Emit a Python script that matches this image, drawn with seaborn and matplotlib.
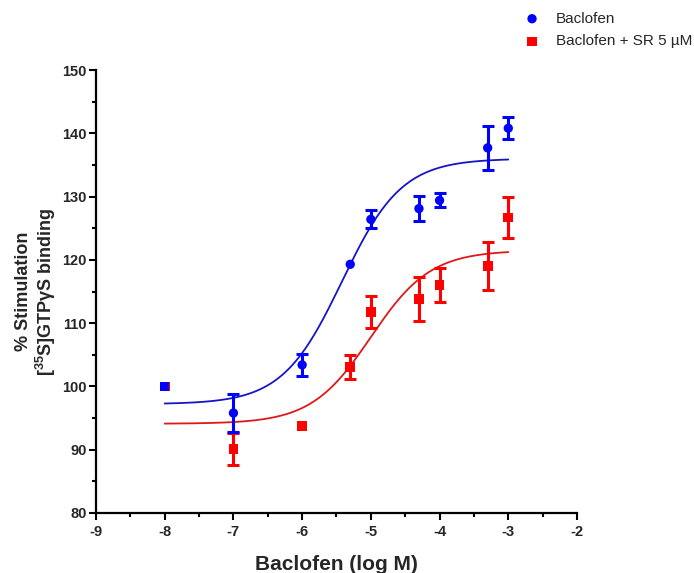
import numpy as np
import pandas as pd
import matplotlib
matplotlib.use("Agg")
import matplotlib.pyplot as plt
import seaborn as sns

# ---- data ----
log_conc = [-8, -7, -6, -5.3, -5, -4.3, -4, -3.3, -3]
baclofen_mean = [100.0, 95.8, 103.4, 119.3, 126.4, 128.1, 129.4, 137.7, 140.8]
baclofen_sem = [0.0, 3.0, 1.7, 0.0, 1.4, 2.0, 1.1, 3.5, 1.7]
sr_mean = [100.0, 90.1, 93.7, 103.1, 111.8, 113.8, 116.0, 119.0, 126.7]
sr_sem = [0.0, 2.5, 0.0, 1.9, 2.5, 3.5, 2.7, 3.8, 3.3]

# fitted 4-parameter logistic curves (bottom, top, logEC50, hill)
baclofen_fit = [97.2, 136.0, -5.42, 1.0]
sr_fit = [94.1, 121.5, -5.0, 1.0]

x_ticks = [-9, -8, -7, -6, -5, -4, -3, -2]
y_ticks = [80, 90, 100, 110, 120, 130, 140, 150]
labels = ["Baclofen", "Baclofen + SR 5 µM"]

BLUE = "#0000FF"
RED = "#FF0000"
BLUE_LINE = "#1515C8"
RED_LINE = "#E01818"

sns.set_style("ticks")
plt.rcParams["font.family"] = ["Liberation Sans", "DejaVu Sans"]
plt.rcParams["mathtext.fontset"] = "custom"
plt.rcParams["mathtext.rm"] = "Liberation Sans:bold"
plt.rcParams["mathtext.bf"] = "Liberation Sans:bold"
plt.rcParams["mathtext.it"] = "Liberation Sans:bold"

fig = plt.figure(figsize=(6.94, 5.73), dpi=100)
ax = fig.add_axes([96 / 694, 1 - 513 / 573, (577 - 96) / 694, (513 - 70) / 573])


def four_pl(x, p):
    b, t, ec, h = p
    return b + (t - b) / (1 + 10 ** ((ec - x) * h))


xs = np.linspace(-8, -3, 300)
curves = pd.concat([
    pd.DataFrame({"x": xs, "y": four_pl(xs, baclofen_fit), "s": labels[0]}),
    pd.DataFrame({"x": xs, "y": four_pl(xs, sr_fit), "s": labels[1]}),
])
sns.lineplot(data=curves, x="x", y="y", hue="s", palette=[BLUE_LINE, RED_LINE],
             linewidth=1.3, legend=False, ax=ax, zorder=2)


def draw_err(x, m, e, color, z):
    idx = [i for i, v in enumerate(e) if v > 0]
    ax.errorbar([x[i] for i in idx], [m[i] for i in idx], yerr=[e[i] for i in idx],
                fmt="none", ecolor=color, elinewidth=2.2, capsize=4.5,
                capthick=2.2, zorder=z)


draw_err(log_conc, sr_mean, sr_sem, RED, 3)
draw_err(log_conc, baclofen_mean, baclofen_sem, BLUE, 4)

df_sr = pd.DataFrame({"x": log_conc, "y": sr_mean})
df_b = pd.DataFrame({"x": log_conc, "y": baclofen_mean})
sns.scatterplot(data=df_sr, x="x", y="y", color=RED, marker="s", s=50,
                edgecolor="none", ax=ax, zorder=5, label=labels[1])
sns.scatterplot(data=df_b.iloc[1:], x="x", y="y", color=BLUE, marker="o", s=45,
                edgecolor="none", ax=ax, zorder=6, label=labels[0])
sns.scatterplot(data=df_b.iloc[:1], x="x", y="y", color=BLUE, marker="s", s=40,
                edgecolor="none", ax=ax, zorder=7, legend=False)

ax.set_xlim(-9, -2)
ax.set_ylim(80, 150)
ax.set_xticks(x_ticks)
ax.set_yticks(y_ticks)
ax.set_xticks(np.arange(-8.5, -2, 1.0), minor=True)
ax.set_yticks(np.arange(85, 150, 10), minor=True)
ax.set_xticklabels([str(t) for t in x_ticks], fontweight="bold", fontsize=10.5)
ax.set_yticklabels([str(t) for t in y_ticks], fontweight="bold", fontsize=10.5)
ax.tick_params(axis="both", which="major", length=5, width=1.5, direction="out",
               color="black")
ax.tick_params(axis="both", which="minor", length=3, width=1.5, direction="out",
               color="black")
ax.tick_params(axis="x", which="major", pad=4)
ax.tick_params(axis="y", which="major", pad=1.5)
for side in ["left", "bottom"]:
    ax.spines[side].set_linewidth(1.6)
    ax.spines[side].set_color("black")
sns.despine(ax=ax)

ax.set_xlabel("Baclofen (log M)", fontsize=15, fontweight="bold", labelpad=11)
ax.set_ylabel("% Stimulation\n[$^{35}$S]GTP$\\gamma$S binding", fontsize=13,
              fontweight="bold", labelpad=3, linespacing=1.1)

handles, lbls = ax.get_legend_handles_labels()
order = [lbls.index(labels[0]), lbls.index(labels[1])]
if ax.get_legend() is not None:
    ax.get_legend().remove()
leg = fig.legend([handles[i] for i in order], [lbls[i] for i in order],
                 loc="upper left", bbox_to_anchor=(503 / 694, 1 + 2 / 573),
                 frameon=False, fontsize=11, handletextpad=0.55, labelspacing=0.57,
                 markerscale=1.0)

fig.savefig("out.png", dpi=100)
